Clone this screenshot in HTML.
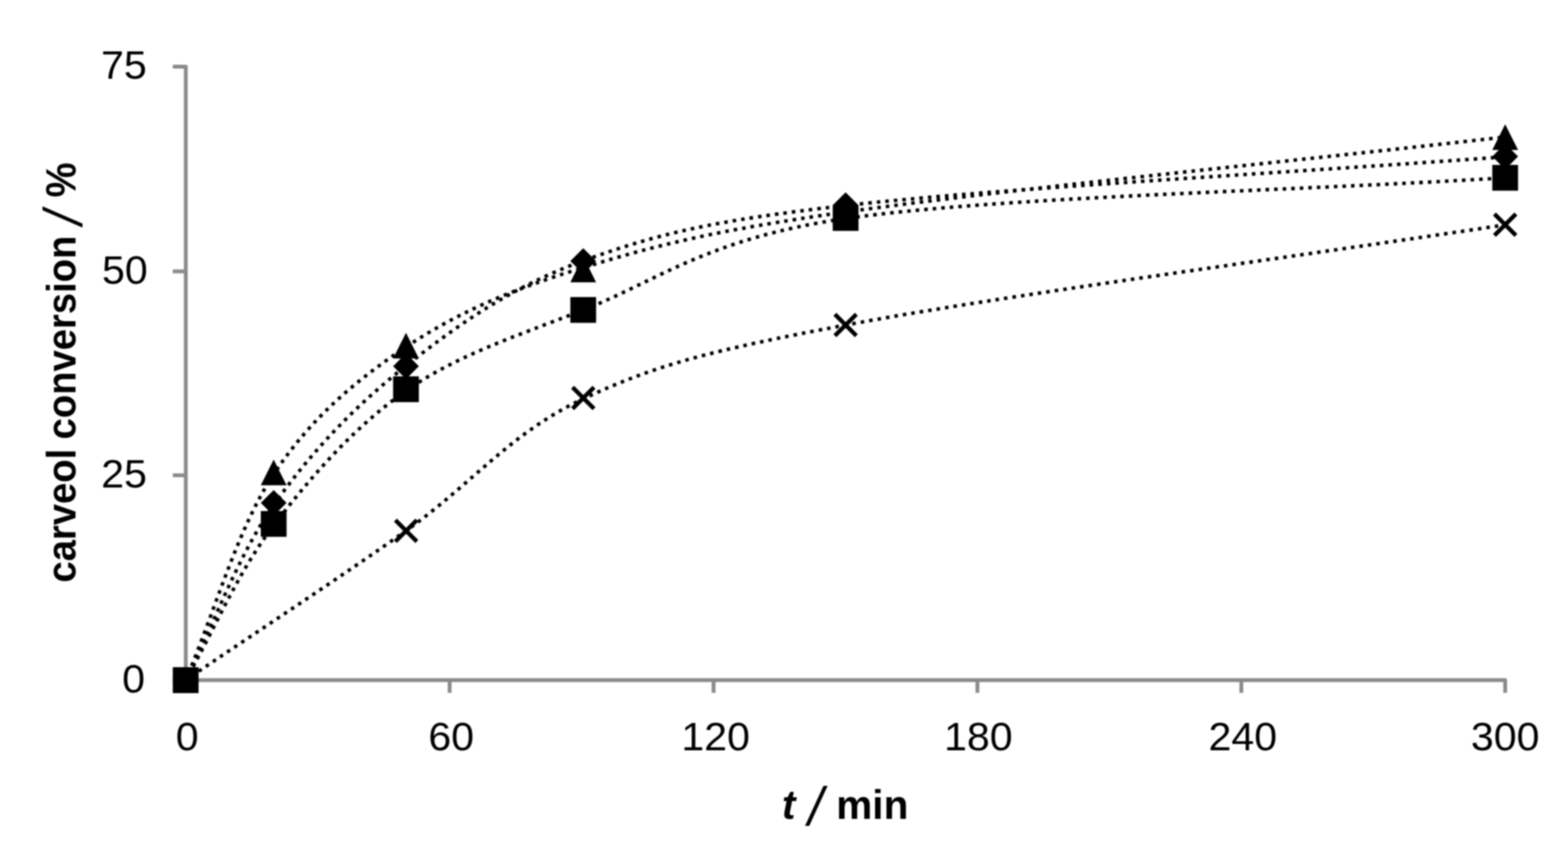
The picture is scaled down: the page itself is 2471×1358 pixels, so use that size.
<!DOCTYPE html>
<html lang="en">
<head>
<meta charset="utf-8">
<title>carveol conversion vs t</title>
<style>
html,body{margin:0;padding:0;background:#fff;}
body{width:2471px;height:1358px;overflow:hidden;}
svg{display:block;filter:blur(1.20px);}
text{font-family:"Liberation Sans","DejaVu Sans",sans-serif;fill:#000;text-anchor:middle;}
.tick{font-size:62.3px;}
.title{font-size:64px;font-weight:bold;}
.sl{font-size:84.5px;font-style:italic;font-weight:normal;}
.pc{font-size:66px;}
.curve{fill:none;stroke:#000;stroke-width:5.6;stroke-dasharray:5.6 7.87;}
.axis{stroke:#8a8a8a;stroke-width:6;fill:none;}
.xm{stroke:#000;stroke-width:6.6;fill:none;}
</style>
</head>
<body>
<svg width="2471" height="1358" viewBox="0 0 2471 1358">
<rect width="2471" height="1358" fill="#fff"/>
<g id="axes"><path class="axis" d="M292.8 102.6V1073.9M290.3 1071.4H2374.5M272.3 1071.4H292.8M272.3 748.7H292.8M272.3 427.6H292.8M272.3 105.1H292.8M292.8 1071.4V1091.4M708.6 1071.4V1091.4M1124.5 1071.4V1091.4M1540.3 1071.4V1091.4M1956.2 1071.4V1091.4M2372.0 1071.4V1091.4"/></g>
<g id="y-tick-labels">
<text class="tick" transform="translate(195.2 123.7) scale(1.040 1)">75</text>
<text class="tick" transform="translate(196.8 447.4) scale(1.040 1)">50</text>
<text class="tick" transform="translate(195.5 767.5) scale(1.040 1)">25</text>
<text class="tick" transform="translate(210.4 1091.2) scale(1.040 1)">0</text>
</g>
<g id="x-tick-labels">
<text class="tick" transform="translate(295.0 1181.6) scale(1.040 1)">0</text>
<text class="tick" transform="translate(711.1 1181.6) scale(1.040 1)">60</text>
<text class="tick" transform="translate(1127.8 1181.6) scale(1.040 1)">120</text>
<text class="tick" transform="translate(1541.8 1181.6) scale(1.040 1)">180</text>
<text class="tick" transform="translate(1958.6 1181.6) scale(1.040 1)">240</text>
<text class="tick" transform="translate(2372.0 1181.6) scale(1.040 1)">300</text>
</g>
<text id="x-title" class="title" style="text-anchor:start" y="1290.3"><tspan x="1232.2" font-style="italic">t</tspan> <tspan class="sl" x="1273.6" y="1300.3">/</tspan> <tspan x="1317.7" y="1290.3">min</tspan></text>
<text id="y-title" class="title" style="text-anchor:start" transform="translate(119.1 0) rotate(-90) scale(0.94 1)" y="0"><tspan x="-976.4">carveol</tspan> <tspan x="-736.4">conversion</tspan> <tspan class="sl" x="-376.5" y="10">/</tspan> <tspan class="pc" x="-330.8" y="0">%</tspan></text>
<g id="curves">
<path class="curve" stroke-dashoffset="2.04" d="M292.6 1071.4C408.4 992.9 535.6 909.9 640.0 836.0C744.4 762.1 803.7 682.3 919.1 628.3C1034.5 574.3 1121.6 551.9 1332.6 512.1C1574.8 466.4 2025.5 406.8 2372.0 354.2"/>
<path class="curve" stroke-dashoffset="2.91" d="M292.6 1071.4C338.8 990.2 373.4 903.7 431.3 827.7C489.2 751.8 558.5 672.2 639.8 615.7C721.1 559.2 803.6 533.6 919.1 488.4C1034.6 443.2 1115.9 375.4 1332.6 344.3C1574.8 309.6 2025.5 301.5 2372.0 280.1"/>
<path class="curve" stroke-dashoffset="2.22" d="M292.6 1071.4C338.8 979.5 373.4 878.2 431.3 795.7C489.2 713.2 558.5 640.4 639.8 576.3C721.1 512.2 803.6 453.0 919.1 410.9C1034.6 368.8 1122.6 347.5 1332.6 323.8C1574.8 296.5 2025.5 272.6 2372.0 247.0"/>
<path class="curve" stroke-dashoffset="2.32" d="M292.6 1071.4C338.8 963.3 373.4 834.6 431.3 747.1C489.2 659.6 558.5 600.9 639.8 546.6C721.1 492.4 803.6 457.0 919.1 421.6C1034.6 386.2 1123.4 363.6 1332.6 334.0C1574.8 299.7 2025.5 255.2 2372.0 215.8"/>
</g>
<g id="markers" fill="#000">
<path class="xm" d="M623.1 819.4L656.9 853.2M623.1 853.2L656.9 819.4M902.3 610.1L936.1 643.9M902.3 643.9L936.1 610.1M1315.7 495.1L1349.5 528.9M1315.7 528.9L1349.5 495.1M2355.1 337.1L2388.9 370.9M2355.1 370.9L2388.9 337.1"/>
<polygon points="292.6,1051.1 312.9,1071.4 292.6,1091.7 272.3,1071.4"/>
<polygon points="431.3,772.0 451.6,792.3 431.3,812.6 411.0,792.3"/>
<polygon points="639.8,556.6 660.1,576.9 639.8,597.2 619.5,576.9"/>
<polygon points="919.1,391.0 939.4,411.3 919.1,431.6 898.8,411.3"/>
<polygon points="1332.6,303.0 1352.9,323.3 1332.6,343.6 1312.3,323.3"/>
<polygon points="2372.0,226.3 2392.3,246.6 2372.0,266.9 2351.7,246.6"/>
<polygon points="292.6,1051.1 312.9,1091.7 272.3,1091.7"/>
<polygon points="431.3,723.9 451.6,764.5 411.0,764.5"/>
<polygon points="639.8,524.2 660.1,564.8 619.5,564.8"/>
<polygon points="919.1,404.1 939.4,444.7 898.8,444.7"/>
<polygon points="1332.6,313.0 1352.9,353.6 1312.3,353.6"/>
<polygon points="2372.0,195.7 2392.3,236.3 2351.7,236.3"/>
<rect x="272.3" y="1051.1" width="40.6" height="40.6"/>
<rect x="411.0" y="805.1" width="40.6" height="40.6"/>
<rect x="619.5" y="592.9" width="40.6" height="40.6"/>
<rect x="898.8" y="468.0" width="40.6" height="40.6"/>
<rect x="1312.3" y="323.1" width="40.6" height="40.6"/>
<rect x="2351.7" y="259.8" width="40.6" height="40.6"/>
</g>
</svg>
</body>
</html>
